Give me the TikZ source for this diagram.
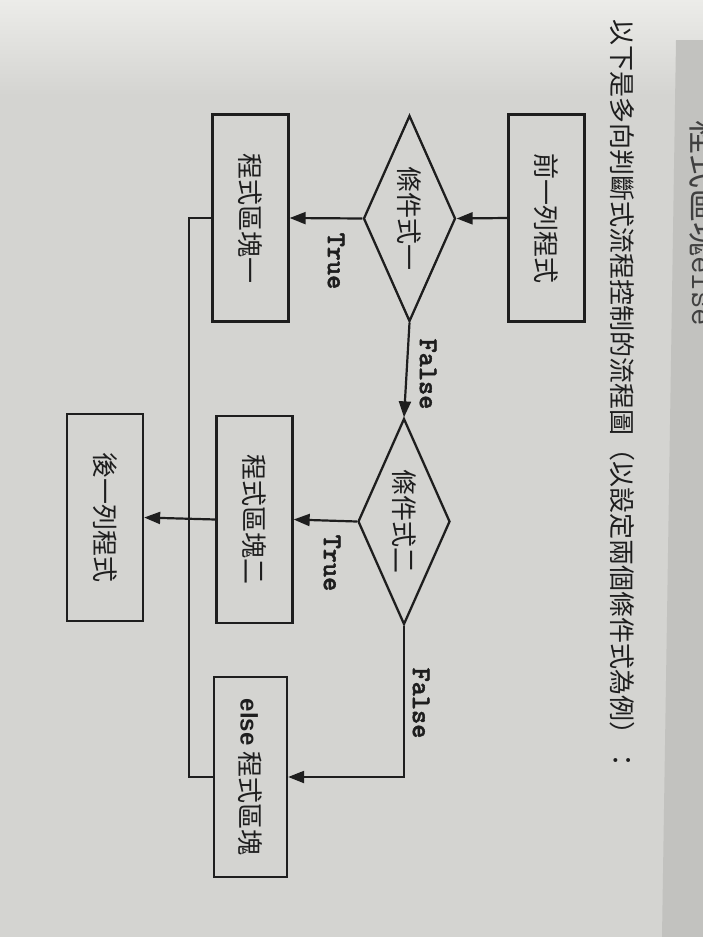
\documentclass[tikz,border=0pt]{standalone}
\usepackage{fontspec}
\usepackage{graphicx}
\newfontfamily\cjk{Noto Sans CJK TC}
\newfontfamily\sans{Liberation Sans}
\newfontfamily\kode{lmmonolt10-bold.otf}[FakeBold=1.6]
\usetikzlibrary{arrows.meta, shapes.geometric, calc}

\definecolor{papir}{RGB}{212,212,209}
\definecolor{papirlys}{RGB}{236,236,233}
\definecolor{papirkant}{RGB}{194,194,191}
\definecolor{blaek}{RGB}{30,30,30}

\newcommand{\lodret}[1]{\rotatebox{-90}{#1}}

\begin{document}
\begin{tikzpicture}[
    x=1pt, y=-1pt,
    blok/.style={rectangle, draw=blaek, line width=2.3pt, inner sep=0pt,
        minimum width=76pt, minimum height=207pt, text=blaek,
        font=\cjk\fontsize{26}{26}\selectfont},
    beslut/.style={diamond, draw=blaek, line width=2.3pt, inner sep=0pt, aspect=0.45,
        minimum width=92pt, minimum height=206pt, text=blaek,
        font=\cjk\fontsize{26}{26}\selectfont},
    pil/.style={-{Triangle[length=16pt, width=12pt]}, line width=2.2pt, draw=blaek},
    linje/.style={line width=2.2pt, draw=blaek},
    maerke/.style={rotate=-90, inner sep=0pt, text=blaek,
        font=\kode\fontsize{27}{27}\selectfont}
]

% side og baggrund
\useasboundingbox (0,0) rectangle (703,937);
\clip (0,0) rectangle (703,937);
\fill[papir] (0,0) rectangle (703,937);
\shade[top color=papirlys, bottom color=papir] (0,0) rectangle (703,95);
\fill[papirkant] (676,40) -- (703,40) -- (703,937) -- (662,937) -- cycle;

% overskrift og rest af naeste side
\node[rotate=-90, inner sep=0pt, text=blaek, font=\cjk\fontsize{26}{26}\selectfont]
    (titel) at (622,396) {以下是多向判斷式流程控制的流程圖（以設定兩個條件式為例）：};
\node[rotate=-90, anchor=west, inner sep=0pt, text=blaek!85, font=\cjk\fontsize{34}{34}\selectfont]
    (rest) at (705,120) {程式區塊{\ttfamily else}};

% knuder
\node[blok] (foer) at (546.5,218) {\lodret{前一列程式}};
\node[beslut] (b1) at (409.5,218.5) {\lodret{條件式一}};
\node[blok] (blok1) at (250.5,218) {\lodret{程式區塊一}};
\node[beslut] (b2) at (404,521.5) {\lodret{條件式二}};
\node[blok] (blok2) at (254.5,519.5) {\lodret{程式區塊二}};
\node[blok] (efter) at (105,517.5) {\lodret{後一列程式}};
\node[blok, minimum width=73pt, minimum height=200pt] (blokelse) at (250.5,777)
    {\lodret{{\sans\bfseries\fontsize{24}{24}\selectfont else} 程式區塊}};

% samleskinne
\coordinate (skinne1) at (189,218);
\coordinate (skinne2) at (189,777);

% forbindelser
\draw[pil] (foer.west) -- (b1.east);
\draw[pil] (b1.west) -- (blok1.east);
\draw[pil] (b1.south) -- (b2.north);
\draw[pil] (b2.west) -- (blok2.east);
\draw[pil] (b2.south) |- (blokelse.east);
\draw[linje] (blok1.west) -- (skinne1) -- (skinne2) -- (blokelse.west);
\draw[pil] (blok2.west) -- (efter.east);

% etiketter
\node[maerke] (sand1) at (336,261) {True};
\node[maerke] (falsk1) at (428,374) {False};
\node[maerke] (sand2) at (332,563) {True};
\node[maerke] (falsk2) at (421,703) {False};

\end{tikzpicture}
\end{document}
